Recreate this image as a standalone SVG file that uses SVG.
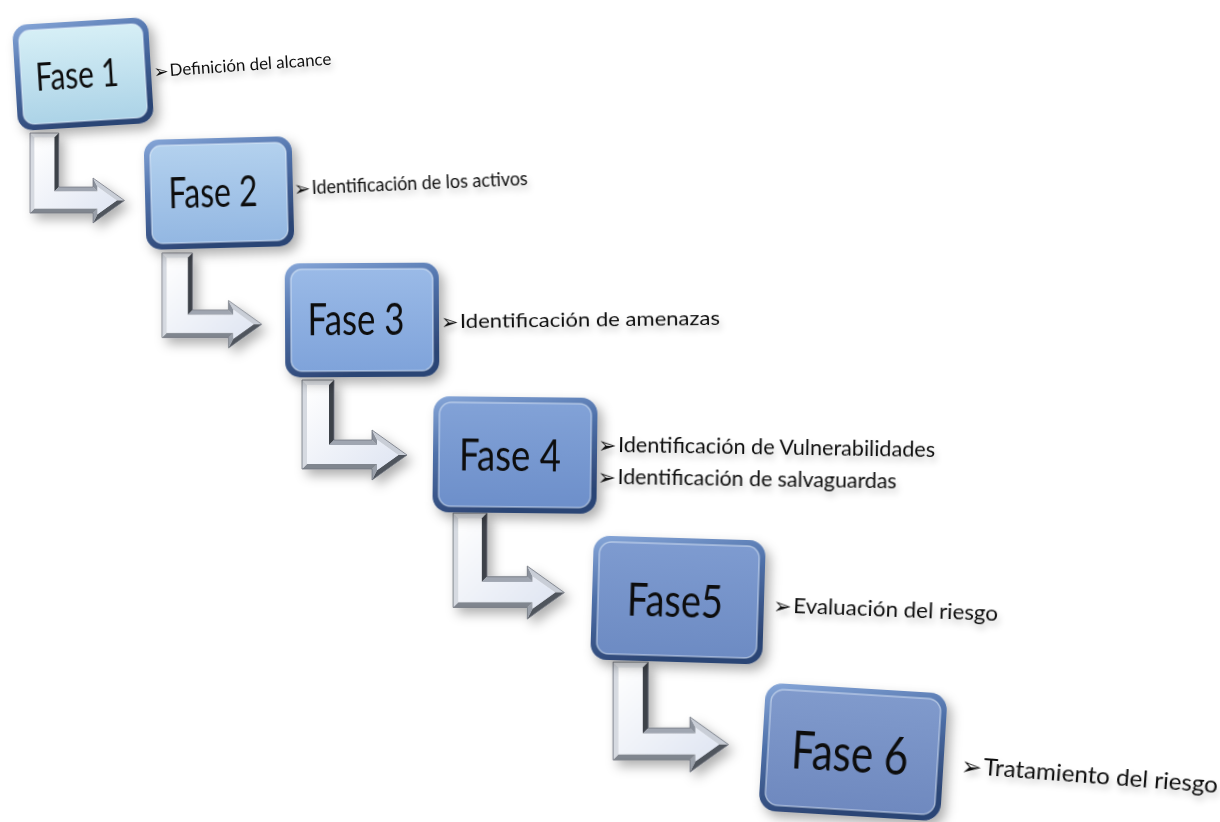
<svg xmlns="http://www.w3.org/2000/svg" xmlns:xlink="http://www.w3.org/1999/xlink" width="1220" height="822" viewBox="0 0 1220 822">
<style>
.box-text{font-family:Lato,"Open Sans","Liberation Sans",sans-serif;fill:#0d0d0d;text-anchor:middle}
.lbl{font-family:Lato,"Open Sans","Liberation Sans",sans-serif;fill:#111}
.bul{font-family:"DejaVu Sans",sans-serif;fill:#111}
.inner{stroke:#e4eefa;stroke-opacity:0.55;stroke-width:1.5}
</style>
<defs>
  <filter id="shadow" x="-25%" y="-25%" width="160%" height="160%">
    <feGaussianBlur in="SourceAlpha" stdDeviation="6"/>
    <feOffset dx="5" dy="6" result="b"/>
    <feFlood flood-color="#000" flood-opacity="0.32"/>
    <feComposite in2="b" operator="in"/>
    <feMerge><feMergeNode/><feMergeNode in="SourceGraphic"/></feMerge>
  </filter>
  <filter id="tshadow" x="-10%" y="-60%" width="120%" height="240%">
    <feGaussianBlur in="SourceAlpha" stdDeviation="3"/>
    <feOffset dx="2" dy="5" result="b"/>
    <feFlood flood-color="#000" flood-opacity="0.22"/>
    <feComposite in2="b" operator="in"/>
    <feMerge><feMergeNode/><feMergeNode in="SourceGraphic"/></feMerge>
  </filter>
  <linearGradient id="rim" x1="0" y1="0" x2="0.35" y2="1">
    <stop offset="0" stop-color="#86a6d8"/>
    <stop offset="0.45" stop-color="#4f71aa"/>
    <stop offset="1" stop-color="#2c4574"/>
  </linearGradient>
  <linearGradient id="face1" x1="0" y1="0" x2="0" y2="1"><stop offset="0" stop-color="#d6eff6"/><stop offset="1" stop-color="#acd3e7"/></linearGradient>
  <linearGradient id="face2" x1="0" y1="0" x2="0" y2="1"><stop offset="0" stop-color="#b3d1ee"/><stop offset="1" stop-color="#93b7e2"/></linearGradient>
  <linearGradient id="face3" x1="0" y1="0" x2="0" y2="1"><stop offset="0" stop-color="#9abae7"/><stop offset="1" stop-color="#7fa3da"/></linearGradient>
  <linearGradient id="face4" x1="0" y1="0" x2="0" y2="1"><stop offset="0" stop-color="#82a2d7"/><stop offset="1" stop-color="#6d8fca"/></linearGradient>
  <linearGradient id="face5" x1="0" y1="0" x2="0" y2="1"><stop offset="0" stop-color="#7e9bd0"/><stop offset="1" stop-color="#6d8bc3"/></linearGradient>
  <linearGradient id="face6" x1="0" y1="0" x2="0" y2="1"><stop offset="0" stop-color="#809acc"/><stop offset="1" stop-color="#6f89bf"/></linearGradient>
  <linearGradient id="arrowFace" x1="0" y1="0" x2="1" y2="1">
    <stop offset="0" stop-color="#ffffff"/>
    <stop offset="1" stop-color="#dfe5f2"/>
  </linearGradient>
  <g id="arrowShape">
    <polygon points="0,0 32,0 27,5 5,5" fill="#e9ecf1"/>
    <polygon points="32,0 32,60 27,65 27,5" fill="#3e424a"/>
    <polygon points="32,60 70,60 75,65 27,65" fill="#a0a6b1"/>
    <polygon points="70,60 70,50 75,59.7 75,65" fill="#8a909b"/>
    <polygon points="70,50 105,75 96.4,75 75,59.7" fill="#c9ced7"/>
    <polygon points="105,75 70,100 75,90.3 96.4,75" fill="#4f545d"/>
    <polygon points="70,100 70,89 75,84 75,90.3" fill="#9aa0aa"/>
    <polygon points="70,89 0,89 5,84 75,84" fill="#80868f"/>
    <polygon points="0,89 0,0 5,5 5,84" fill="#d6dae1"/>
    <polygon points="5,5 27,5 27,65 75,65 75,59.7 96.4,75 75,90.3 75,84 5,84" fill="url(#arrowFace)"/>
    <polygon points="0,0 32,0 32,60 70,60 70,50 105,75 70,100 70,89 0,89" fill="none" stroke="#6f747d" stroke-width="0.8"/>
  </g>
</defs>

<rect x="0" y="0" width="1220" height="822" fill="#ffffff"/>

<g id="connectors" filter="url(#shadow)">
  <use xlink:href="#arrowShape" href="#arrowShape" transform="translate(30,133) scale(0.9)"/>
  <use xlink:href="#arrowShape" href="#arrowShape" transform="translate(162,253) scale(0.95)"/>
  <use xlink:href="#arrowShape" href="#arrowShape" transform="translate(302,380) scale(1)"/>
  <use xlink:href="#arrowShape" href="#arrowShape" transform="translate(453,513) scale(1.06)"/>
  <use xlink:href="#arrowShape" href="#arrowShape" transform="translate(613,662) scale(1.1)"/>
</g>

<g id="fase1" transform="translate(83,74) rotate(-3.5)">
  <rect x="-68" y="-53" width="136" height="106" rx="15" fill="url(#rim)" filter="url(#shadow)"/>
  <rect x="-62" y="-47" width="124" height="94" rx="11" fill="url(#face1)" class="inner"/>
  <text class="box-text" x="-6" y="14" font-size="38" textLength="83" lengthAdjust="spacingAndGlyphs">Fase 1</text>
</g>
<g id="fase2" transform="translate(219,193) rotate(-1.5)">
  <rect x="-74" y="-55" width="148" height="110" rx="15" fill="url(#rim)" filter="url(#shadow)"/>
  <rect x="-68" y="-49" width="136" height="98" rx="11" fill="url(#face2)" class="inner"/>
  <text class="box-text" x="-6" y="14" font-size="42" textLength="89" lengthAdjust="spacingAndGlyphs">Fase 2</text>
</g>
<g id="fase3" transform="translate(362,320) rotate(-0.3)">
  <rect x="-77" y="-57" width="154" height="114" rx="15" fill="url(#rim)" filter="url(#shadow)"/>
  <rect x="-71" y="-51" width="142" height="102" rx="11" fill="url(#face3)" class="inner"/>
  <text class="box-text" x="-6" y="15" font-size="44" textLength="97" lengthAdjust="spacingAndGlyphs">Fase 3</text>
</g>
<g id="fase4" transform="translate(515,455) rotate(0.6)">
  <rect x="-82" y="-58" width="164" height="116" rx="16" fill="url(#rim)" filter="url(#shadow)"/>
  <rect x="-76" y="-52" width="152" height="104" rx="12" fill="url(#face4)" class="inner"/>
  <text class="box-text" x="-5" y="16" font-size="45" textLength="102" lengthAdjust="spacingAndGlyphs">Fase 4</text>
</g>
<g id="fase5" transform="translate(678,600) rotate(1.7)">
  <rect x="-86" y="-62" width="172" height="124" rx="16" fill="url(#rim)" filter="url(#shadow)"/>
  <rect x="-80" y="-56" width="160" height="112" rx="12" fill="url(#face5)" class="inner"/>
  <text class="box-text" x="-3" y="17" font-size="47" textLength="96" lengthAdjust="spacingAndGlyphs">Fase5</text>
</g>
<g id="fase6" transform="translate(853,752) rotate(3.5)">
  <rect x="-91" y="-64" width="182" height="128" rx="17" fill="url(#rim)" filter="url(#shadow)"/>
  <rect x="-85" y="-58" width="170" height="116" rx="13" fill="url(#face6)" class="inner"/>
  <text class="box-text" x="-3" y="20" font-size="53" textLength="117" lengthAdjust="spacingAndGlyphs">Fase 6</text>
</g>

<g id="labels" filter="url(#tshadow)">
  <g id="label1" transform="translate(170,76) rotate(-4)">
    <text class="bul" x="-16" y="1" font-size="18">➢</text>
    <text class="lbl" x="0" y="0" font-size="17" textLength="162" lengthAdjust="spacingAndGlyphs">Definición del alcance</text>
  </g>
  <g id="label2" transform="translate(312,194) rotate(-2.4)">
    <text class="bul" x="-18" y="1" font-size="20">➢</text>
    <text class="lbl" x="0" y="0" font-size="19" textLength="216" lengthAdjust="spacingAndGlyphs">Identificación de los activos</text>
  </g>
  <g id="label3" transform="translate(460,328) rotate(-0.7)">
    <text class="bul" x="-19" y="1" font-size="21">➢</text>
    <text class="lbl" x="0" y="0" font-size="20" textLength="260" lengthAdjust="spacingAndGlyphs">Identificación de amenazas</text>
  </g>
  <g id="label4" transform="translate(618,452) rotate(0.9)">
    <text class="bul" x="-20" y="1" font-size="22">➢</text>
    <text class="lbl" x="0" y="0" font-size="21" textLength="317" lengthAdjust="spacingAndGlyphs">Identificación de Vulnerabilidades</text>
    <text class="bul" x="-20" y="33" font-size="22">➢</text>
    <text class="lbl" x="0" y="32" font-size="21" textLength="279" lengthAdjust="spacingAndGlyphs">Identificación de salvaguardas</text>
  </g>
  <g id="label5" transform="translate(793,613) rotate(2.2)">
    <text class="bul" x="-20" y="1" font-size="22">➢</text>
    <text class="lbl" x="0" y="0" font-size="21" textLength="205" lengthAdjust="spacingAndGlyphs">Evaluación del riesgo</text>
  </g>
  <g id="label6" transform="translate(983,775) rotate(4.4)">
    <text class="bul" x="-22.5" y="1" font-size="25">➢</text>
    <text class="lbl" x="0" y="0" font-size="24" textLength="235" lengthAdjust="spacingAndGlyphs">Tratamiento del riesgo</text>
  </g>
</g>
</svg>
